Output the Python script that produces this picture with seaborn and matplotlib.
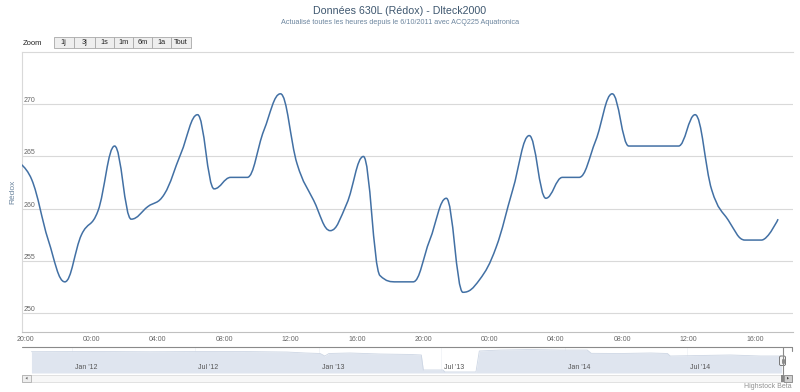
import numpy as np
import pandas as pd
import seaborn as sns
import matplotlib
matplotlib.use('Agg')
import matplotlib.pyplot as plt
import matplotlib.dates as mdates
import matplotlib.transforms as mtrans
from matplotlib.path import Path
from matplotlib.patches import PathPatch, Rectangle, FancyBboxPatch

# ---- data -------------------------------------------------------------
title = 'Données 630L (Rédox) - Dlteck2000'
subtitle = 'Actualisé toutes les heures depuis le 6/10/2011 avec ACQ225 Aquatronica'
ylabel = 'Rédox'

# hourly readings (last two days)
start = '2014-11-16 19:24'
redox = [264.6, 262.8, 257.0, 253.0, 257.5, 259.8, 266.0, 259.0, 260.2, 261.4,
         265.3, 269.0, 261.9, 263.0, 263.0, 267.5, 271.0, 264.3, 260.8, 257.9,
         260.5, 265.0, 253.6, 253.0, 253.0, 257.0, 261.0, 252.0, 253.2, 256.3,
         261.8, 267.0, 261.0, 263.0, 263.0, 266.5, 271.0, 266.0, 266.0, 266.0,
         266.0, 269.0, 261.8, 258.9, 257.0, 257.0, 259.0]
times = pd.date_range(start, periods=len(redox), freq='h')

# navigator (whole history)
nav_dates = ['2011-11-02', '2012-02-11', '2012-04-26', '2012-07-09', '2012-09-21',
             '2012-11-15', '2012-12-12', '2013-01-03', '2013-01-10', '2013-01-16',
             '2013-02-16', '2013-04-02', '2013-05-16', '2013-06-02', '2013-06-05',
             '2013-07-04', '2013-07-07', '2013-08-22', '2013-08-27', '2013-09-27',
             '2013-11-11', '2013-12-25', '2014-02-03', '2014-02-09', '2014-03-24',
             '2014-05-08', '2014-06-02', '2014-06-06', '2014-07-21', '2014-09-03',
             '2014-10-18', '2014-11-18']
nav_values = [246, 248, 245, 248, 247, 242, 231, 225, 196, 225,
              231, 219, 214, 208, 35, 35, 12, 12, 254, 265,
              271, 265, 265, 227, 225, 231, 225, 196, 202, 208,
              196, 196]

zoom_buttons = ['1j', '3j', '1s', '1m', '6m', '1a', 'Tout']

# ---- style ------------------------------------------------------------
sns.set_style('white')
plt.rcParams['font.family'] = ['Liberation Sans', 'DejaVu Sans']

W, H = 800, 392
fig = plt.figure(figsize=(8, 3.92), dpi=100, facecolor='w')


def fig_rect(x0, y0, x1, y1):
    return [x0 / W, 1 - y1 / H, (x1 - x0) / W, (y1 - y0) / H]


def hc_spline(x, y, sm=1.5):
    # highcharts-like spline through the points
    n = len(x)
    den = sm + 1
    lc = [(x[i], y[i]) for i in range(n)]
    rc = [(x[i], y[i]) for i in range(n)]
    for i in range(1, n - 1):
        px, py = x[i], y[i]
        lx, ly, nx_, ny = x[i - 1], y[i - 1], x[i + 1], y[i + 1]
        lcx = (sm * px + lx) / den
        lcy = (sm * py + ly) / den
        rcx = (sm * px + nx_) / den
        rcy = (sm * py + ny) / den
        corr = (rcy - lcy) * (rcx - px) / (rcx - lcx) + py - rcy
        lcy += corr
        rcy += corr
        if lcy > ly and lcy > py:
            lcy = max(ly, py); rcy = 2 * py - lcy
        elif lcy < ly and lcy < py:
            lcy = min(ly, py); rcy = 2 * py - lcy
        if rcy > ny and rcy > py:
            rcy = max(ny, py); lcy = 2 * py - rcy
        elif rcy < ny and rcy < py:
            rcy = min(ny, py); lcy = 2 * py - rcy
        lc[i] = (lcx, lcy)
        rc[i] = (rcx, rcy)
    verts = [(x[0], y[0])]
    codes = [Path.MOVETO]
    for i in range(1, n):
        verts += [rc[i - 1], lc[i], (x[i], y[i])]
        codes += [Path.CURVE4] * 3
    return Path(verts, codes)


# ---- main chart -------------------------------------------------------
ax = fig.add_axes(fig_rect(22, 52, 793, 332))
df = pd.DataFrame({'time': times, 'redox': redox})
sns.lineplot(data=df, x='time', y='redox', ax=ax, color='#4572A7', lw=1.1)
line = ax.lines[0]
line.set_visible(False)
xnum = mdates.date2num(times.to_pydatetime())
ax.add_patch(PathPatch(hc_spline(list(xnum), redox), fc='none',
                       ec='#4270a4', lw=1.1, zorder=3))

xmin = pd.Timestamp('2014-11-16 19:49')
xmax = pd.Timestamp('2014-11-18 18:18')
ax.set_xlim(xmin, xmax)
ax.set_ylim(248.2, 275)
ax.set_yticks([250, 255, 260, 265, 270])
ax.yaxis.grid(True, color='#d9d9d9', lw=0.8)
ax.set_axisbelow(True)
ax.tick_params(axis='y', length=0, pad=-1.5, labelsize=5, labelcolor='#666666')
for lab in ax.get_yticklabels():
    lab.set_ha('left')
    lab.set_va('bottom')
ax.xaxis.set_major_locator(mdates.HourLocator(byhour=range(0, 24, 4)))
ax.xaxis.set_major_formatter(mdates.DateFormatter('%H:%M'))
ax.tick_params(axis='x', length=0, pad=3, labelsize=5, labelcolor='#666666')
ax.set_xlabel('')
ax.set_ylabel(ylabel, fontsize=6, color='#6D869F', labelpad=4)
for s in ['top', 'left']:
    ax.spines[s].set_color('#d9d9d9')
    ax.spines[s].set_linewidth(0.8)
ax.spines['bottom'].set_color('#c0c0c0')
ax.spines['bottom'].set_linewidth(0.8)
ax.spines['right'].set_visible(False)

# ---- navigator --------------------------------------------------------
nav_start = pd.Timestamp('2011-10-19')
axn = fig.add_axes(fig_rect(22, 347, 782, 373))
ndf = pd.DataFrame({'date': pd.to_datetime(nav_dates), 'value': nav_values})
sns.lineplot(data=ndf, x='date', y='value', ax=axn, color='#cdd6e4', lw=0.6)
axn.fill_between(ndf['date'], 0, ndf['value'], color='#dfe5ef', lw=0)
axn.set_xlim(nav_start, xmax)
axn.set_ylim(0, 300)
axn.set_xticks([])
axn.set_yticks([])
axn.set_xlabel('')
axn.set_ylabel('')
for s in axn.spines.values():
    s.set_visible(False)
axn.patch.set_alpha(0)
off = mtrans.ScaledTranslation(3 / 100, 0, fig.dpi_scale_trans)
trans = mtrans.blended_transform_factory(axn.transData, axn.transAxes) + off
for t in pd.date_range('2012-01-01', xmax, freq='6MS'):
    axn.axvline(t, color='#eef1f5', lw=0.5, zorder=0)
    axn.text(t, 0.23, t.strftime("%b '%y"), transform=trans, ha='left', va='center',
             fontsize=5, color='#555555')

# ---- decorations (pixel overlay) --------------------------------------
ov = fig.add_axes([0, 0, 1, 1])
ov.set_xlim(0, W)
ov.set_ylim(H, 0)
ov.axis('off')
ov.patch.set_alpha(0)

ov.text(400, 11, title, ha='center', va='center', fontsize=7.7, color='#3E576F')
ov.text(400, 22, subtitle, ha='center', va='center', fontsize=5.2, color='#6D869F')

ov.text(22.5, 43, 'Zoom', ha='left', va='center', fontsize=5.5, color='#222222')
edges = [53.5, 74, 94.5, 114, 133, 152, 171, 191]
for i, lab in enumerate(zoom_buttons):
    x0, x1 = edges[i], edges[i + 1]
    ov.add_patch(Rectangle((x0, 37), x1 - x0, 11, fc='#eeeeee', ec='#a8a8a8', lw=0.6))
    ov.text((x0 + x1) / 2, 42.8, lab, ha='center', va='center', fontsize=5.3,
            color='#222222')

# navigator outline and handle
ov.plot([22, 782.5], [347, 347], color='#8a8a8a', lw=0.8)
ov.plot([782.5, 782.5], [347, 374], color='#8a8a8a', lw=0.8)
ov.plot([782.5, 792], [347, 347], color='#8a8a8a', lw=0.8)
ov.plot([792, 792], [347, 351], color='#8a8a8a', lw=0.8)
ov.add_patch(FancyBboxPatch((779.5, 356), 6, 9.5, boxstyle='round,pad=0,rounding_size=1.5',
                            fc='#f4f4f4', ec='#666666', lw=0.6))
ov.plot([781.7, 781.7], [358.5, 363], color='#666666', lw=0.5)
ov.plot([783.5, 783.5], [358.5, 363], color='#666666', lw=0.5)

# scrollbar
ov.add_patch(Rectangle((22, 374.5), 770, 7.5, fc='#f7f7f7', ec='#dddddd', lw=0.6))
ov.add_patch(Rectangle((22, 374.5), 9, 7.5, fc='#eeeeee', ec='#b0b0b0', lw=0.6))
ov.add_patch(plt.Polygon([[25.5, 378.2], [27.5, 376.8], [27.5, 379.6]], fc='#666666', ec='none'))
ov.add_patch(Rectangle((781, 374.5), 2.5, 7.5, fc='#888888', ec='none'))
ov.add_patch(Rectangle((783.5, 374.5), 8.5, 7.5, fc='#cfcfcf', ec='#888888', lw=0.6))
ov.add_patch(plt.Polygon([[789, 378.2], [787, 376.8], [787, 379.6]], fc='#444444', ec='none'))

ov.text(792, 386, 'Highstock Beta', ha='right', va='center', fontsize=5, color='#909090')

fig.savefig('out.png', dpi=100, facecolor='w')
